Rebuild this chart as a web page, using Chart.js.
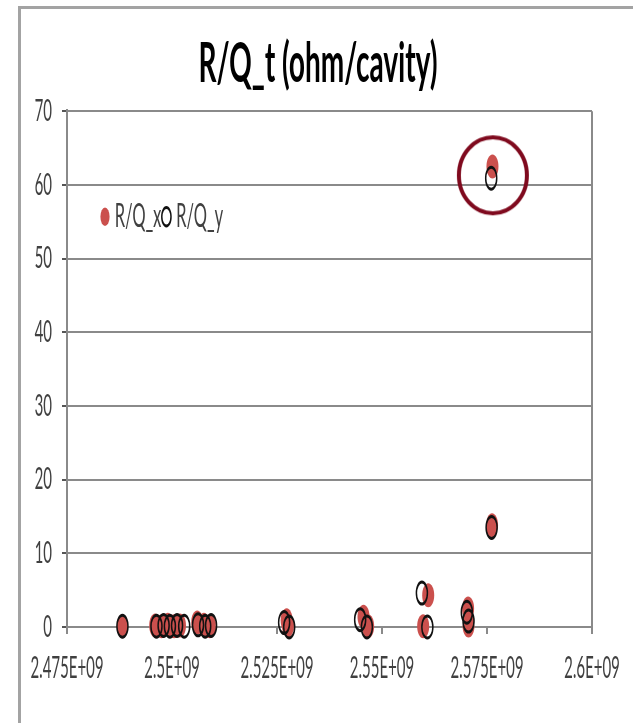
<!DOCTYPE html>
<html>
<head>
<meta charset="utf-8">
<script src="https://cdn.jsdelivr.net/npm/chart.js@4.4.1/dist/chart.umd.min.js"></script>
<style>
  html, body { margin: 0; padding: 0; background: #fff; overflow: hidden; }
  #frame { position: absolute; left: 18px; top: 6px; width: 640px; height: 740px;
           border-top: 3px solid #a3a3a3; border-left: 3px solid #a3a3a3; }
  /* the original picture is squashed sideways, so draw wide and scale down */
  #wrap { position: absolute; left: 0; top: 0; width: 1266px; height: 723px;
          transform: scaleX(0.5); transform-origin: 0 0; }
</style>
</head>
<body>
<div id="frame"></div>
<div id="wrap"><canvas id="rqChart"></canvas></div>
<script>
const rqxFreq = [2.4882e9, 2.4960e9, 2.4975e9, 2.4990e9, 2.5005e9, 2.5019e9, 2.5060e9, 2.5076e9, 2.5090e9,
                 2.5273e9, 2.5276e9, 2.5456e9, 2.5467e9, 2.5610e9, 2.5598e9, 2.5705e9, 2.5706e9, 2.5762e9, 2.5763e9];
const rqxVals = [0.1, 0.2, 0.1, 0.3, 0.1, 0.2, 0.6, 0.3, 0.1,
                 0.9, 0.2, 1.4, 0.1, 4.3, 0.1, 2.5, 0.2, 13.8, 62.5];
const rqyFreq = [2.4882e9, 2.4963e9, 2.4980e9, 2.4995e9, 2.5012e9, 2.5029e9, 2.5062e9, 2.5079e9, 2.5093e9,
                 2.5267e9, 2.5279e9, 2.5448e9, 2.5464e9, 2.5595e9, 2.5608e9, 2.5702e9, 2.5706e9, 2.5761e9, 2.5760e9];
const rqyVals = [0.1, 0.1, 0.2, 0.1, 0.2, 0.1, 0.3, 0.1, 0.2,
                 0.6, 0.0, 1.0, 0.0, 4.6, 0.0, 2.0, 0.8, 13.5, 60.9];
const highlightFreq = [2.5764e9];
const highlightVals = [61.3];
const xTickLabels = ['2.475E+09', '2.5E+09', '2.525E+09', '2.55E+09', '2.575E+09', '2.6E+09'];

const red = '#cb504d';
const gridGray = '#8a8a8a';
const fontFamily = 'Lato, "Noto Sans", sans-serif';

// ring drawn wide so it comes out round after the squash
const ring = document.createElement('canvas');
ring.width = 150;
ring.height = 84;
const rc = ring.getContext('2d');
rc.strokeStyle = '#7f0a1e';
rc.save();
rc.scale(2, 1);
rc.lineWidth = 4;
rc.beginPath();
rc.ellipse(37.5, 42, 34, 38, 0, 0, Math.PI * 2);
rc.stroke();
rc.restore();

const toPoints = (xs, ys) => xs.map((x, i) => ({x: x, y: ys[i]}));

// move the legend into the plot like the Excel one, nudge the title
const legendInPlot = {
    id: 'legendInPlot',
    afterLayout(chart) {
        const lg = chart.legend;
        const area = chart.chartArea;
        const w = lg.right - lg.left;
        lg.left = area.left + 66;
        lg.right = lg.left + w;
        lg.top = area.top + 82;
        lg.bottom = lg.top + 60;
        const t = chart.titleBlock;
        t.left += 14;
        t.right += 14;
    }
};

const ctx = document.getElementById('rqChart').getContext('2d');
const rqChart = new Chart(ctx, {
    type: 'scatter',
    data: {
        datasets: [
            {
                label: 'R/Q_x',
                data: toPoints(rqxFreq, rqxVals),
                pointStyle: 'circle',
                pointRadius: 12,
                pointBackgroundColor: red,
                pointBorderColor: red,
                pointBorderWidth: 0,
                backgroundColor: red,
                borderColor: red,
                order: 2,
                clip: false
            },
            {
                label: 'R/Q_y',
                data: toPoints(rqyFreq, rqyVals),
                pointStyle: 'circle',
                pointRadius: 11,
                pointBackgroundColor: 'rgba(0,0,0,0)',
                pointBorderColor: '#111',
                pointBorderWidth: 3,
                backgroundColor: 'rgba(0,0,0,0)',
                borderColor: '#111',
                order: 1,
                clip: false
            },
            {
                label: 'highlight',
                data: toPoints(highlightFreq, highlightVals),
                pointStyle: ring,
                pointRadius: 30,
                order: 0,
                clip: false
            }
        ]
    },
    options: {
        responsive: true,
        maintainAspectRatio: false,
        animation: false,
        events: [],
        layout: {
            padding: {left: 60, right: 82, top: 0, bottom: 0}
        },
        plugins: {
            title: {
                display: true,
                text: 'R/Q_t (ohm/cavity)',
                color: '#000',
                font: {family: fontFamily, size: 56, weight: 'bold', lineHeight: 1.2},
                padding: {top: 30, bottom: 13}
            },
            legend: {
                position: 'top',
                align: 'start',
                maxHeight: 1,
                labels: {
                    usePointStyle: true,
                    boxWidth: 6,
                    boxHeight: 13,
                    padding: 7,
                    color: '#404040',
                    font: {family: fontFamily, size: 33},
                    filter: item => item.datasetIndex < 2,
                    sort: (a, b) => a.datasetIndex - b.datasetIndex
                }
            },
            tooltip: {enabled: false}
        },
        scales: {
            x: {
                type: 'linear',
                min: 2.475e9,
                max: 2.6e9,
                afterFit: scale => { scale.height = 96; },
                border: {color: gridGray, width: 2},
                grid: {
                    drawOnChartArea: true,
                    color: c => c.index === xTickLabels.length - 1 ? gridGray : 'rgba(0,0,0,0)',
                    lineWidth: 4,
                    tickColor: gridGray,
                    tickWidth: 4,
                    tickLength: 7
                },
                ticks: {
                    stepSize: 25e6,
                    autoSkip: false,
                    maxRotation: 0,
                    padding: 16,
                    color: '#404040',
                    font: {family: fontFamily, size: 30},
                    callback: (value, index) => xTickLabels[index]
                }
            },
            y: {
                min: 0,
                max: 70,
                afterFit: scale => { scale.width = 74; },
                border: {color: gridGray, width: 4},
                grid: {
                    color: gridGray,
                    lineWidth: 2,
                    tickColor: '#555',
                    tickLength: 10
                },
                ticks: {
                    stepSize: 10,
                    padding: 20,
                    color: '#404040',
                    font: {family: fontFamily, size: 30}
                }
            }
        }
    },
    plugins: [legendInPlot]
});
</script>
</body>
</html>
